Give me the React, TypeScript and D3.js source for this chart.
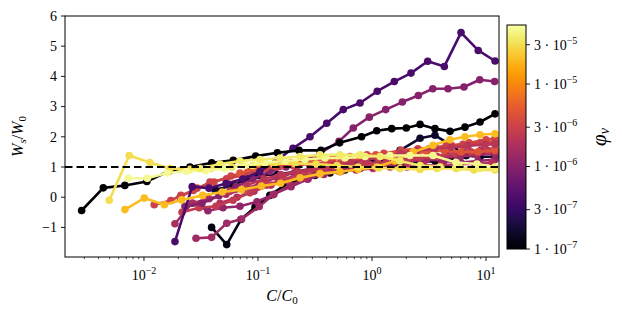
import React from "react";
import * as d3 from "d3";

// ---------- data ----------
const xMajorExps = [-2, -1, 0, 1];
const yTickValues = [-1, 0, 1, 2, 3, 4, 5, 6];
const cbarTicks = [1e-7, 3e-7, 1e-6, 3e-6, 1e-5, 3e-5];
const cbarTickMant = ["1", "3", "1", "3", "1", "3"];
const cbarTickExp = ["−7", "−7", "−6", "−6", "−5", "−5"];

const phiValues = [
  1.2e-7, 1.6e-7, 1.2e-6, 1.5e-6, 2e-6, 1.7e-6, 2.5e-6, 1e-6, 3.5e-6, 3e-6, 4.5e-6, 2.2e-6,
  4e-7, 1e-7, 2e-5, 3e-5, 4.5e-5, 3.6e-5,
];

const s10C = [0.0392, 0.0532, 0.0709, 0.0942, 0.127, 0.173, 0.234, 0.316, 0.428, 0.58, 0.785, 1.06, 1.44, 1.95, 2.64, 3.57, 4.83, 6.68, 8.86, 12.0];
const s10W = [-1.0, -1.57, -0.74, -0.33, 0.06, 0.4, 0.6, 0.72, 0.8, 0.9, 0.95, 1.0, 1.05, 1.1, 1.15, 1.2, 1.3, 1.38, 1.45, 1.5];

const s11C = [0.042, 0.0604, 0.0801, 0.1, 0.147, 0.22, 0.35, 0.524, 0.785, 1.18, 1.76, 2.64, 3.57, 4.83, 6.68, 8.86, 12.0];
const s11W = [0.25, 0.39, 0.61, 0.72, 0.75, 0.85, 1.0, 1.1, 1.15, 1.25, 1.55, 1.95, 2.05, 1.75, 1.38, 1.33, 1.35];

const s14C = [0.0269, 0.0364, 0.0493, 0.0695, 0.098, 0.138, 0.195, 0.275, 0.387, 0.546, 0.769, 1.08, 1.53, 2.15, 3.04, 4.28, 6.04, 8.51, 12.0];
const s14W = [-0.2, -0.45, -0.35, -0.3, -0.15, 0.1, 0.35, 0.6, 0.8, 0.95, 1.05, 1.1, 1.15, 1.2, 1.25, 1.2, 1.15, 1.2, 1.25];

const s9C = [0.0286, 0.0392, 0.0532, 0.0718, 0.1026, 0.136, 0.191, 0.269, 0.378, 0.533, 0.752, 1.06, 1.49, 2.1, 2.96, 4.17, 5.88, 8.3, 12.0];
const s9W = [-1.36, -1.33, -0.86, -0.72, -0.31, 0.08, 0.4, 0.6, 0.75, 0.85, 0.95, 1.05, 1.1, 1.2, 1.25, 1.3, 1.35, 1.4, 1.45];

const s17C = [0.0464, 0.0655, 0.0922, 0.13, 0.183, 0.258, 0.364, 0.514, 0.724, 1.02, 1.44, 2.03, 2.86, 4.03, 5.68, 8.01, 11.3];
const s17W = [-0.2, 0.0, 0.2, 0.4, 0.55, 0.7, 0.8, 0.85, 0.9, 0.95, 1.0, 1.0, 1.05, 1.05, 1.1, 1.1, 1.15];

const s8C = [0.0187, 0.0264, 0.0372, 0.0524, 0.0738, 0.104, 0.147, 0.207, 0.291, 0.41, 0.578, 0.814, 1.15, 1.62, 2.28, 3.21, 4.53, 6.38, 9.0, 12.0];
const s8W = [-0.88, -0.2, -0.05, 0.1, 0.25, 0.45, 0.65, 0.8, 0.9, 0.95, 1.0, 1.05, 1.1, 1.2, 1.3, 1.35, 1.4, 1.5, 1.55, 1.6];

const s13C = [0.0216, 0.0304, 0.0428, 0.0604, 0.0851, 0.12, 0.169, 0.238, 0.336, 0.474, 0.668, 0.941, 1.33, 1.87, 2.64, 3.72, 5.24, 7.38, 10.4];
const s13W = [-0.5, -0.35, -0.3, -0.1, 0.15, 0.4, 0.6, 0.75, 0.9, 1.0, 1.05, 1.1, 1.15, 1.2, 1.3, 1.35, 1.45, 1.5, 1.55];

const s3C = [0.0229, 0.0323, 0.0455, 0.0641, 0.0904, 0.127, 0.176, 0.238, 0.35, 0.514, 0.685, 0.947, 1.319, 1.845, 2.55, 3.41, 4.64, 6.41, 8.81, 11.9];
const s3W = [-0.3, -0.2, 0.05, 0.35, 0.6, 0.85, 1.0, 1.15, 1.45, 1.85, 2.29, 2.65, 2.9, 3.15, 3.37, 3.59, 3.59, 3.65, 3.89, 3.83];

const s15C = [0.0207, 0.0292, 0.0411, 0.058, 0.0817, 0.115, 0.162, 0.229, 0.323, 0.455, 0.641, 0.904, 1.27, 1.8, 2.53, 3.57, 5.03, 7.1, 10.0, 12.0];
const s15W = [0.0, 0.3, 0.5, 0.7, 0.85, 0.95, 1.05, 1.15, 1.25, 1.3, 1.35, 1.4, 1.45, 1.55, 1.6, 1.65, 1.7, 1.8, 1.9, 1.95];

const s7C = [0.0123, 0.0172, 0.0211, 0.0271, 0.0379, 0.0531, 0.0718, 0.104, 0.146, 0.203, 0.286, 0.403, 0.565, 0.798, 1.13, 1.59, 2.25, 3.17, 4.46, 6.28, 8.86, 12.0];
const s7W = [-0.25, -0.11, 0.06, 0.22, 0.5, 0.61, 0.72, 0.89, 1.0, 1.05, 1.1, 1.15, 1.2, 1.25, 1.3, 1.4, 1.5, 1.6, 1.7, 1.75, 1.8, 1.85];

const s16C = [0.0695, 0.098, 0.138, 0.195, 0.275, 0.387, 0.546, 0.769, 1.08, 1.53, 2.15, 3.04, 4.28, 6.04, 8.51, 12.0];
const s16W = [0.8, 0.95, 1.05, 1.15, 1.2, 1.25, 1.3, 1.35, 1.4, 1.4, 1.45, 1.5, 1.55, 1.5, 1.5, 1.55];

const s12C = [0.0568, 0.0801, 0.113, 0.159, 0.224, 0.316, 0.446, 0.629, 0.886, 1.25, 1.76, 2.48, 3.5, 4.93, 6.95, 9.8, 12.0];
const s12W = [0.2, 0.4, 0.6, 0.75, 0.85, 0.95, 1.05, 1.15, 1.25, 1.35, 1.45, 1.55, 1.6, 1.65, 1.7, 1.75, 1.75];

const s2C = [0.0187, 0.0265, 0.0372, 0.0524, 0.0738, 0.104, 0.144, 0.203, 0.286, 0.401, 0.56, 0.785, 1.112, 1.569, 2.198, 3.08, 4.31, 6.04, 8.55, 12.0];
const s2W = [-1.47, 0.35, 0.3, 0.45, 0.6, 0.85, 1.2, 1.62, 2.0, 2.45, 2.9, 3.12, 3.51, 3.83, 4.11, 4.5, 4.33, 5.45, 4.86, 4.51];

const s1C = [0.00284, 0.0044, 0.0068, 0.0106, 0.0169, 0.0253, 0.0393, 0.0607, 0.0955, 0.148, 0.229, 0.357, 0.52, 0.81, 1.1, 1.49, 2.0, 2.64, 3.57, 4.83, 6.54, 8.86, 12.0];
const s1W = [-0.44, 0.31, 0.39, 0.52, 0.88, 1.0, 1.14, 1.22, 1.36, 1.47, 1.55, 1.55, 1.8, 2.0, 2.2, 2.27, 2.29, 2.41, 2.27, 2.18, 2.32, 2.49, 2.76];

const s6C = [0.00681, 0.01006, 0.0151, 0.0214, 0.0327, 0.0486, 0.0718, 0.107, 0.158, 0.234, 0.35, 0.524, 0.757, 1.1, 1.59, 2.3, 3.43, 4.83, 6.54, 8.86, 12.0];
const s6W = [-0.41, -0.03, -0.25, -0.09, 0.06, 0.17, 0.25, 0.37, 0.46, 0.64, 0.78, 0.84, 0.92, 1.0, 1.2, 1.5, 1.72, 1.9, 2.0, 2.07, 2.1];

const s4C = [0.00496, 0.00743, 0.01129, 0.0169, 0.0253, 0.0387, 0.0591, 0.0904, 0.138, 0.211, 0.323, 0.493, 0.754, 1.15, 1.76, 2.64, 3.72, 5.46, 7.85, 12.0];
const s4W = [-0.1, 1.38, 1.15, 0.95, 0.92, 0.95, 1.0, 1.05, 1.1, 1.12, 1.1, 1.05, 1.0, 0.97, 0.95, 0.92, 0.95, 0.95, 0.9, 0.9];

const s5C = [0.00728, 0.0107, 0.016, 0.0237, 0.0348, 0.0514, 0.0769, 0.115, 0.173, 0.258, 0.387, 0.58, 0.869, 1.44, 2.15, 3.43, 5.46, 8.34, 12.0];
const s5W = [0.63, 0.63, 0.8, 0.86, 0.88, 0.95, 1.05, 1.15, 1.2, 1.25, 1.3, 1.3, 1.35, 1.38, 1.38, 1.38, 1.15, 1.1, 1.0];

const s18C = [0.031, 0.0464, 0.0695, 0.104, 0.156, 0.234, 0.35, 0.524, 0.785, 1.18, 1.76, 2.64, 3.95, 5.91, 8.86, 12.0];
const s18W = [0.95, 1.1, 1.2, 1.25, 1.3, 1.35, 1.4, 1.4, 1.4, 1.35, 1.2, 1.05, 1.0, 0.98, 0.95, 0.95];

const seriesC = [s10C, s11C, s14C, s9C, s17C, s8C, s13C, s3C, s15C, s7C, s16C, s12C, s2C, s1C, s6C, s4C, s5C, s18C];
const seriesW = [s10W, s11W, s14W, s9W, s17W, s8W, s13W, s3W, s15W, s7W, s16W, s12W, s2W, s1W, s6W, s4W, s5W, s18W];

// ---------- layout ----------
const W = 622;
const H = 317;
const plot = { left: 65, right: 499, top: 16, bottom: 257 };
const cbar = { left: 507, right: 526, top: 25, bottom: 249 };
const FONT = "'Liberation Serif', 'Times New Roman', serif";

export default function App() {
  const x = d3.scaleLog().domain([0.00203, 13.0]).range([plot.left, plot.right]);
  const y = d3.scaleLinear().domain([-1.98, 6]).range([plot.bottom, plot.top]);
  const cScale = d3.scaleSequentialLog(d3.interpolateInferno).domain([1e-7, 5.2e-5]);
  const cbY = d3.scaleLog().domain([1e-7, 5.2e-5]).range([cbar.bottom, cbar.top]);

  const line = d3
    .line<[number, number]>()
    .x((d) => x(d[0]))
    .y((d) => y(d[1]));

  const minorTicks: number[] = [];
  for (let e = -3; e <= 1; e++) {
    for (let k = 2; k <= 9; k++) {
      const v = k * Math.pow(10, e);
      if (v >= 0.00203 && v <= 13.0) minorTicks.push(v);
    }
  }

  const gradStops = d3.range(0, 1.0001, 0.02);

  return (
    <svg width={W} height={H} style={{ position: "absolute", left: 0, top: 0, fontFamily: FONT }}>
      <defs>
        <clipPath id="plotclip">
          <rect x={plot.left} y={plot.top} width={plot.right - plot.left} height={plot.bottom - plot.top} />
        </clipPath>
        <linearGradient id="cbgrad" x1="0" y1="1" x2="0" y2="0">
          {gradStops.map((t, i) => (
            <stop key={i} offset={t} stopColor={d3.interpolateInferno(t)} />
          ))}
        </linearGradient>
      </defs>
      <rect x={0} y={0} width={W} height={H} fill="#fff" />

      {/* data */}
      <g clipPath="url(#plotclip)">
        {seriesC.map((cs, i) => {
          const pts: [number, number][] = cs.map((c, j) => [c, seriesW[i][j]]);
          const col = cScale(phiValues[i]);
          return (
            <g key={i}>
              <path d={line(pts) || ""} fill="none" stroke={col} strokeWidth={2.6} strokeLinejoin="round" />
              {pts.map((p, j) => (
                <circle key={j} cx={x(p[0])} cy={y(p[1])} r={3.8} fill={col} />
              ))}
            </g>
          );
        })}
        <line
          x1={plot.left}
          x2={plot.right}
          y1={y(1)}
          y2={y(1)}
          stroke="#000"
          strokeWidth={2.2}
          strokeDasharray="7.5,4"
        />
      </g>

      {/* frame */}
      <rect
        x={plot.left}
        y={plot.top}
        width={plot.right - plot.left}
        height={plot.bottom - plot.top}
        fill="none"
        stroke="#000"
        strokeWidth={1}
      />

      {/* x ticks */}
      {minorTicks.map((v, i) => (
        <line key={"m" + i} x1={x(v)} x2={x(v)} y1={plot.bottom} y2={plot.bottom + 2.2} stroke="#000" strokeWidth={0.7} />
      ))}
      {xMajorExps.map((e) => {
        const px = x(Math.pow(10, e));
        return (
          <g key={"x" + e}>
            <line x1={px} x2={px} y1={plot.bottom} y2={plot.bottom + 4} stroke="#000" strokeWidth={0.9} />
            <text x={px} y={plot.bottom + 23} fontSize={14} textAnchor="middle">
              <tspan>10</tspan>
              <tspan dy={-6} fontSize={10}>{e < 0 ? "−" + Math.abs(e) : String(e)}</tspan>
            </text>
          </g>
        );
      })}

      {/* y ticks */}
      {yTickValues.map((v) => (
        <g key={"y" + v}>
          <line x1={plot.left - 4} x2={plot.left} y1={y(v)} y2={y(v)} stroke="#000" strokeWidth={0.9} />
          <text x={plot.left - 8} y={y(v) + 4.8} fontSize={14} textAnchor="end">
            {v < 0 ? "−" + Math.abs(v) : String(v)}
          </text>
        </g>
      ))}

      {/* axis labels */}
      <text x={(plot.left + plot.right) / 2} y={301} fontSize={16} textAnchor="middle">
        <tspan fontStyle="italic">C</tspan>
        <tspan>/</tspan>
        <tspan fontStyle="italic">C</tspan>
        <tspan dy={3} fontSize={11}>0</tspan>
      </text>
      <g transform={`translate(23, ${(plot.top + plot.bottom) / 2}) rotate(-90)`}>
        <text x={0} y={0} fontSize={16} textAnchor="middle">
          <tspan fontStyle="italic">W</tspan>
          <tspan dy={3} fontSize={11} fontStyle="italic">s</tspan>
          <tspan dy={-3}>/</tspan>
          <tspan fontStyle="italic">W</tspan>
          <tspan dy={3} fontSize={11}>0</tspan>
        </text>
      </g>

      {/* colorbar */}
      <rect
        x={cbar.left}
        y={cbar.top}
        width={cbar.right - cbar.left}
        height={cbar.bottom - cbar.top}
        fill="url(#cbgrad)"
        stroke="#000"
        strokeWidth={1}
      />
      {cbarTicks.map((v, i) => (
        <g key={"cb" + i}>
          <line x1={cbar.right} x2={cbar.right + 4} y1={cbY(v)} y2={cbY(v)} stroke="#000" strokeWidth={0.9} />
          <text x={cbar.right + 8} y={cbY(v) + 4.8} fontSize={14}>
            <tspan>{cbarTickMant[i] + " · 10"}</tspan>
            <tspan dy={-6} fontSize={10}>{cbarTickExp[i]}</tspan>
          </text>
        </g>
      ))}
      <g transform={`translate(606, ${(cbar.top + cbar.bottom) / 2}) rotate(-90)`}>
        <text x={0} y={0} fontSize={21} textAnchor="middle">
          <tspan fontStyle="italic">φ</tspan>
          <tspan dy={3} fontSize={14} fontStyle="italic">v</tspan>
        </text>
      </g>
    </svg>
  );
}
